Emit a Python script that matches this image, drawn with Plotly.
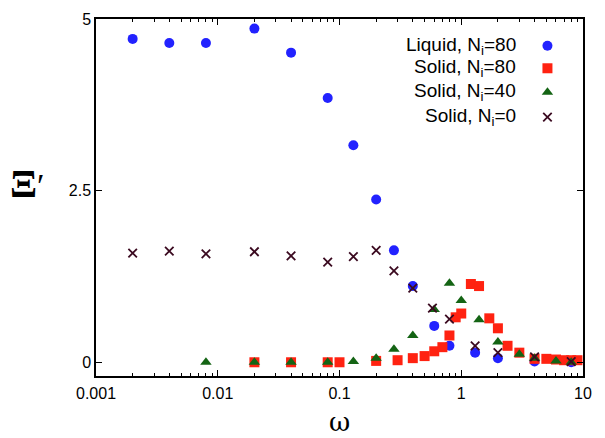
import plotly.graph_objects as go

# ---- data ----
liq80_w = [0.002, 0.004, 0.008, 0.02, 0.04, 0.08, 0.13, 0.2, 0.28, 0.4, 0.6, 0.8, 1.3, 2.0, 4.0, 8.0]
liq80_v = [4.71, 4.65, 4.65, 4.86, 4.51, 3.85, 3.16, 2.37, 1.63, 1.11, 0.53, 0.24, 0.14, 0.06, 0.01, 0.0]

sol80_w = [0.02, 0.04, 0.08, 0.1, 0.2, 0.3, 0.4, 0.5, 0.6, 0.7, 0.8, 0.9, 1.0, 1.2, 1.4, 1.7, 2.0, 2.4, 3.0,
           4.0, 5.0, 6.0, 7.0, 8.0, 9.0]
sol80_v = [0.0, 0.0, 0.0, 0.0, 0.02, 0.03, 0.06, 0.09, 0.16, 0.22, 0.39, 0.655, 0.71, 1.14, 1.11, 0.64, 0.495,
           0.24, 0.14, 0.05, 0.05, 0.04, 0.03, 0.03, 0.03]

sol40_w = [0.008, 0.02, 0.04, 0.08, 0.13, 0.2, 0.28, 0.4, 0.6, 0.8, 1.0, 1.4, 2.0, 3.0, 4.0, 6.0, 8.0]
sol40_v = [0.0, 0.0, 0.0, 0.0, 0.01, 0.06, 0.19, 0.39, 0.77, 1.15, 0.90, 0.62, 0.295, 0.115, 0.06, 0.02, 0.0]

sol0_w = [0.002, 0.004, 0.008, 0.02, 0.04, 0.08, 0.13, 0.2, 0.28, 0.4, 0.58, 0.8, 1.3, 2.0, 4.0, 8.0]
sol0_v = [1.59, 1.62, 1.58, 1.61, 1.55, 1.46, 1.54, 1.63, 1.33, 1.08, 0.79, 0.63, 0.24, 0.14, 0.08, 0.01]

series_names = ["Liquid, N<sub>i</sub>=80", "Solid, N<sub>i</sub>=80", "Solid, N<sub>i</sub>=40", "Solid, N<sub>i</sub>=0"]

x_tickvals = [0.001, 0.01, 0.1, 1, 10]
x_ticktext = ["0.001", "0.01", "0.1", "1", "10"]
y_tickvals = [0, 2.5, 5]
y_ticktext = ["0", "2.5", "5"]

BLUE = "#2222ff"
RED = "#ff2211"
GREEN = "#146414"
DARK = "#3b0a20"

styles = [
    dict(symbol="circle", size=10, color=BLUE),
    dict(symbol="square", size=10, color=RED),
    dict(symbol="triangle-up", size=10, color=GREEN),
    dict(symbol="x-thin", size=8.5, color=DARK, line=dict(width=1.8, color=DARK)),
]

fig = go.Figure()
for (w, v), st in zip([(liq80_w, liq80_v), (sol80_w, sol80_v), (sol40_w, sol40_v), (sol0_w, sol0_v)], styles):
    fig.add_trace(go.Scatter(x=w, y=v, mode="markers", marker=st, showlegend=False, cliponaxis=False))

# custom legend: text right-aligned, marker at right
leg_rows_y = [0.925, 0.862, 0.795, 0.725]
leg_text_x = 0.867
leg_mark_x = 0.927
for name, st, yy in zip(series_names, styles, leg_rows_y):
    fig.add_trace(go.Scatter(x=[leg_mark_x], y=[yy], mode="markers", marker=st, showlegend=False,
                             xaxis="x2", yaxis="y2"))
    fig.add_annotation(x=leg_text_x, y=yy, xref="paper", yref="paper", text=name, showarrow=False,
                       xanchor="right", yanchor="middle",
                       font=dict(family="Liberation Sans", size=19, color="black"))

minor_x = [m * 10 ** e for e in range(-3, 1) for m in range(2, 10)]

fig.update_layout(
    width=605, height=438,
    margin=dict(l=96, r=22, t=19, b=62),
    plot_bgcolor="white", paper_bgcolor="white",
    font=dict(family="Liberation Sans", size=16, color="black"),
    xaxis=dict(type="log", range=[-3, 1], tickvals=x_tickvals, ticktext=x_ticktext,
               ticks="inside", ticklen=6, tickwidth=1, tickcolor="black",
               showline=True, linecolor="black", linewidth=1.5, mirror="allticks",
               showgrid=False, zeroline=False, ticklabelstandoff=2,
               minor=dict(tickvals=minor_x, ticks="inside", ticklen=3, tickcolor="black", showgrid=False),
               tickfont=dict(size=16)),
    yaxis=dict(range=[-0.2, 5], tickvals=y_tickvals, ticktext=y_ticktext,
               ticks="inside", ticklen=6, tickwidth=1, tickcolor="black",
               showline=True, linecolor="black", linewidth=1.5, mirror="allticks",
               showgrid=False, zeroline=False, tickfont=dict(size=16)),
    xaxis2=dict(overlaying="x", range=[0, 1], visible=False),
    yaxis2=dict(overlaying="y", range=[0, 1], visible=False),
)

# axis titles
fig.add_annotation(x=0.5, y=0, xref="paper", yref="paper", text="ω", showarrow=False,
                   xanchor="center", yanchor="middle", yshift=-46, height=22, valign="middle",
                   font=dict(family="DejaVu Serif", size=26, color="black"))
fig.add_annotation(x=0, y=0.54, xref="paper", yref="paper",
                   text="<b>Ξ</b><span style='font-size:34px'>′</span>", showarrow=False,
                   xanchor="left", yanchor="middle", xshift=-88,
                   font=dict(family="Liberation Serif", size=40, color="black"))

fig.write_html("out.html", config={"displayModeBar": False},
               post_script="document.body.style.margin='0';document.body.style.padding='0';")
